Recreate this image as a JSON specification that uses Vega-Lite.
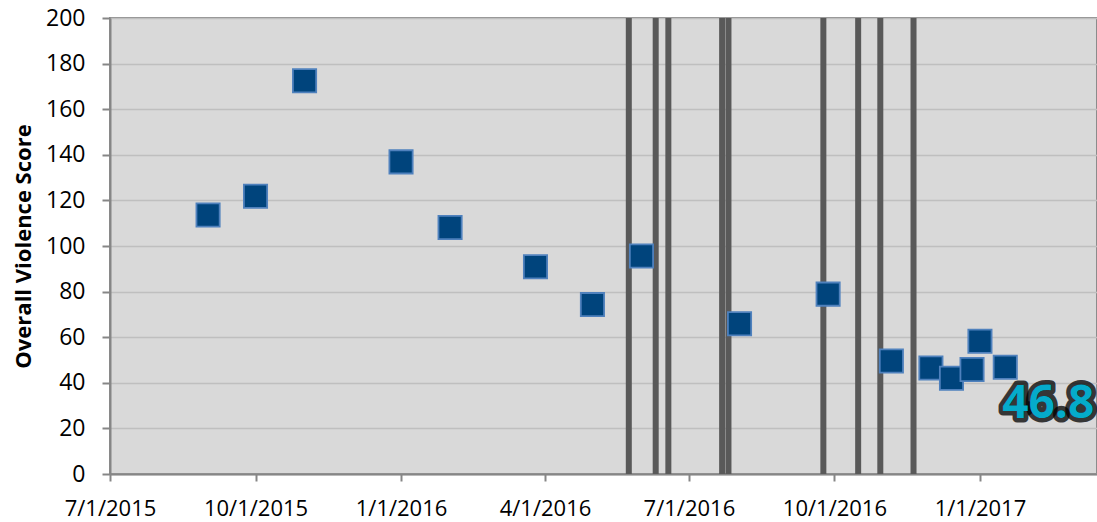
{
  "$schema": "https://vega.github.io/schema/vega-lite/v6.json",
  "width": 987,
  "height": 456,
  "autosize": {"type": "none"},
  "padding": {"left": 110, "top": 18, "right": 0, "bottom": 48},
  "background": "white",
  "config": {
    "view": {"fill": "#D9D9D9", "stroke": "#8C8C8C", "strokeWidth": 2},
    "font": "Open Sans"
  },
  "datasets": {
    "points": [
      {"date": "2015-09-01", "score": 113.6},
      {"date": "2015-10-01", "score": 121.8},
      {"date": "2015-11-01", "score": 172.5},
      {"date": "2016-01-01", "score": 136.9},
      {"date": "2016-02-01", "score": 108.1},
      {"date": "2016-03-26", "score": 90.9},
      {"date": "2016-05-01", "score": 74.3},
      {"date": "2016-06-01", "score": 95.6},
      {"date": "2016-08-02", "score": 65.9},
      {"date": "2016-09-27", "score": 78.9},
      {"date": "2016-11-06", "score": 49.6},
      {"date": "2016-12-01", "score": 46.5},
      {"date": "2016-12-14", "score": 42.0},
      {"date": "2016-12-27", "score": 45.8},
      {"date": "2017-01-01", "score": 58.2},
      {"date": "2017-01-17", "score": 46.8}
    ],
    "events": [
      {"date": "2016-05-24"},
      {"date": "2016-06-10"},
      {"date": "2016-06-18"},
      {"date": "2016-07-22"},
      {"date": "2016-07-26"},
      {"date": "2016-09-24"},
      {"date": "2016-10-16"},
      {"date": "2016-10-30"},
      {"date": "2016-11-20"}
    ],
    "label": [
      {"date": "2017-01-17", "score": 46.8, "text": "46.8"}
    ]
  },
  "layer": [
    {
      "data": {"name": "points"},
      "mark": {"type": "point", "opacity": 0},
      "encoding": {
        "x": {
          "field": "date", "type": "temporal",
          "scale": {"type": "utc", "domain": [{"year": 2015, "month": 7, "date": 1, "utc": true}, {"year": 2017, "month": 3, "date": 16, "utc": true}]},
          "axis": {
            "title": null,
            "values": [
              {"year": 2015, "month": 7, "date": 1, "utc": true},
              {"year": 2015, "month": 10, "date": 1, "utc": true},
              {"year": 2016, "month": 1, "date": 1, "utc": true},
              {"year": 2016, "month": 4, "date": 1, "utc": true},
              {"year": 2016, "month": 7, "date": 1, "utc": true},
              {"year": 2016, "month": 10, "date": 1, "utc": true},
              {"year": 2017, "month": 1, "date": 1, "utc": true}
            ],
            "format": "%-m/%-d/%Y",
            "grid": false,
            "domainColor": "#868686", "domainWidth": 2,
            "tickColor": "#868686", "tickWidth": 2, "tickSize": 7,
            "labelFontSize": 22, "labelColor": "#000000", "labelPadding": 17,
            "labelFlush": false, "labelOverlap": false
          }
        },
        "y": {
          "field": "score", "type": "quantitative",
          "scale": {"domain": [0, 200]},
          "axis": {
            "title": "Overall Violence Score",
            "titleFontSize": 22, "titleFontWeight": "bold", "titleColor": "#000000", "titlePadding": 10,
            "values": [0, 20, 40, 60, 80, 100, 120, 140, 160, 180, 200],
            "gridColor": "#BFBFBF", "gridWidth": 1.5,
            "domainColor": "#868686", "domainWidth": 2,
            "tickColor": "#868686", "tickWidth": 2, "tickSize": 8,
            "labelFontSize": 23, "labelColor": "#000000", "labelPadding": 17
          }
        }
      }
    },
    {
      "data": {"name": "events"},
      "mark": {"type": "rule", "color": "#595959", "strokeWidth": 6},
      "encoding": {"x": {"field": "date", "type": "temporal"}}
    },
    {
      "data": {"name": "points"},
      "mark": {"type": "square", "size": 540, "filled": true, "fill": "#00447C", "stroke": "#4F81BD", "strokeWidth": 1.8, "opacity": 1},
      "encoding": {
        "x": {"field": "date", "type": "temporal"},
        "y": {"field": "score", "type": "quantitative"}
      }
    },
    {
      "data": {"name": "label"},
      "mark": {"type": "text", "align": "left", "baseline": "alphabetic", "dx": -3, "dy": 51, "fontSize": 46, "fontWeight": "bold", "font": "Open Sans", "fill": "#000000", "stroke": "#000000", "strokeWidth": 9, "strokeJoin": "round", "strokeOpacity": 0.75},
      "encoding": {
        "x": {"field": "date", "type": "temporal"},
        "y": {"field": "score", "type": "quantitative"},
        "text": {"field": "text"}
      }
    },
    {
      "data": {"name": "label"},
      "mark": {"type": "text", "align": "left", "baseline": "alphabetic", "dx": -3, "dy": 51, "fontSize": 46, "fontWeight": "bold", "font": "Open Sans", "fill": "#05ABCA"},
      "encoding": {
        "x": {"field": "date", "type": "temporal"},
        "y": {"field": "score", "type": "quantitative"},
        "text": {"field": "text"}
      }
    }
  ]
}
